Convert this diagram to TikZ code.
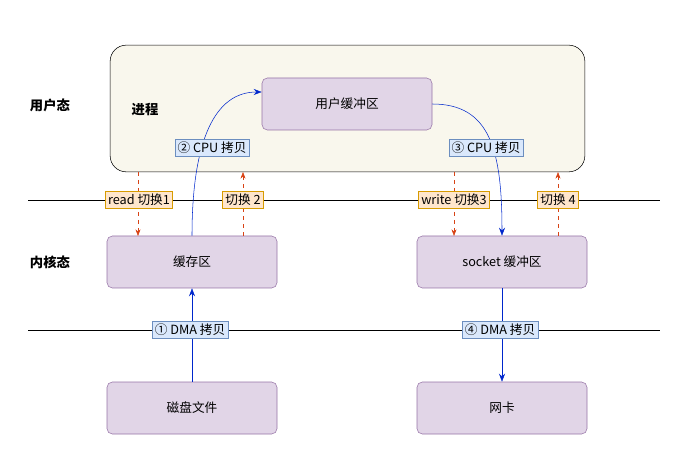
\documentclass[tikz,border=0pt]{standalone}
\usepackage{fontspec}
\setmainfont{Noto Sans CJK SC}
\usetikzlibrary{arrows.meta}
\definecolor{pf}{HTML}{E1D5E7}\definecolor{ps}{HTML}{9673A6}
\definecolor{bf}{HTML}{DAE8FC}\definecolor{bs}{HTML}{6C8EBF}
\definecolor{of}{HTML}{FFE6CC}\definecolor{os}{HTML}{D79B00}
\definecolor{bg}{HTML}{F9F7ED}\definecolor{ar}{HTML}{0027CC}\definecolor{rd}{HTML}{D84315}
\begin{document}
\begin{tikzpicture}[x=0.75pt,y=-0.75pt,font=\fontsize{9.5}{11}\selectfont,
 box/.style={draw=ps,fill=pf,rounded corners=4pt,minimum width=127.5pt,minimum height=39pt},
 blab/.style={draw=bs,fill=bf,inner sep=2pt,minimum height=13pt},
 olab/.style={draw=os,fill=of,inner sep=2pt,minimum height=13pt},
 bar/.style={-{Stealth[length=6pt]},ar,thin},
 dar/.style={-{Stealth[length=5pt]},rd,dashed,thin},
 hd/.style={font=\bfseries\fontsize{10}{12}\selectfont}]
\useasboundingbox (0,0) rectangle (697,449);
\node[draw,fill=bg,rounded corners=12pt,minimum width=356pt,minimum height=95pt] (proc) at (347.5,108.5) {};
\draw (28,200) -- (660,200) (28,330) -- (660,330);
\node[hd] (u) at (50,105) {用户态};
\node[hd] (p) at (145,110) {进程};
\node[hd] (k) at (50,262) {内核态};
\node[box] (ub) at (347,104) {用户缓冲区};
\node[box] (cb) at (192,262) {缓存区};
\node[box] (sb) at (502,262) {socket 缓冲区};
\node[box] (disk) at (192,408) {磁盘文件};
\node[box] (nic) at (502,408) {网卡};
\coordinate (a1) at (138,172);\coordinate (a2) at (138,236);
\coordinate (b1) at (243,236);\coordinate (b2) at (243,172);
\coordinate (c1) at (454,172);\coordinate (c2) at (454,236);
\coordinate (d1) at (558,236);\coordinate (d2) at (558,172);
\draw[dar] (a1) -- (a2); \draw[dar] (b1) -- (b2);
\draw[dar] (c1) -- (c2); \draw[dar] (d1) -- (d2);
\draw[bar] (disk.north) -- (cb.south);
\draw[bar] (sb.south) -- (nic.north);
\draw[bar] (cb.north) .. controls (192,140) and (215,92) .. (ub.west|-0,92);
\draw[bar] (ub.east|-0,104) .. controls (490,104) and (502,150) .. (sb.north);
\node[blab] (l2) at (212,148) {② CPU 拷贝};
\node[blab] (l3) at (486,148) {③ CPU 拷贝};
\node[blab] (l1) at (190,330) {① DMA 拷贝};
\node[blab] (l4) at (500,330) {④ DMA 拷贝};
\node[olab] (s1) at (139,200) {read 切换1};
\node[olab] (s2) at (243,200) {切换 2};
\node[olab] (s3) at (454,200) {write 切换3};
\node[olab] (s4) at (558,200) {切换 4};
\end{tikzpicture}
\end{document}
